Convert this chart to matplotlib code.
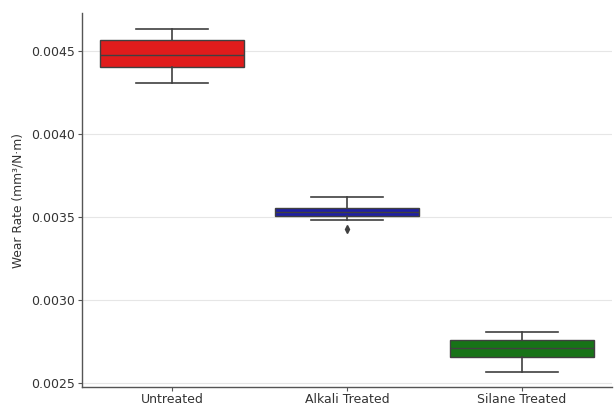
import matplotlib
matplotlib.use("Agg")
import matplotlib.pyplot as plt

# Wear-rate summary statistics per fibre treatment (mm^3/N·m)
treatments = ["Untreated", "Alkali Treated", "Silane Treated"]
whisker_low = [0.004308, 0.003482, 0.002568]
quartile_1 = [0.004404, 0.003506, 0.002658]
median = [0.004476, 0.003530, 0.002712]
quartile_3 = [0.004566, 0.003556, 0.002760]
whisker_high = [0.004632, 0.003620, 0.002808]
outliers = [[], [0.003428], []]

box_colors = ["#e01c1c", "#1f1fa3", "#177317"]
line_color = "#404040"

stats = []
for i, name in enumerate(treatments):
    stats.append(dict(label=name, med=median[i], q1=quartile_1[i], q3=quartile_3[i],
                      whislo=whisker_low[i], whishi=whisker_high[i],
                      fliers=outliers[i]))

fig = plt.figure(figsize=(6.14, 4.05), dpi=100)
ax = fig.add_axes([0.1336, 0.044, 0.863, 0.924])

bp = ax.bxp(stats, positions=range(len(treatments)), widths=0.82,
            patch_artist=True, showfliers=True,
            boxprops=dict(edgecolor=line_color, linewidth=1.0),
            medianprops=dict(color=line_color, linewidth=1.0),
            whiskerprops=dict(color=line_color, linewidth=1.2),
            capprops=dict(color=line_color, linewidth=1.2),
            flierprops=dict(marker="d", markerfacecolor=line_color,
                            markeredgecolor=line_color, markersize=4))
for patch, c in zip(bp["boxes"], box_colors):
    patch.set_facecolor(c)

ax.set_xlim(-0.514, 2.514)
ax.set_ylim(0.002476, 0.004728)
ax.set_yticks([0.0025, 0.0030, 0.0035, 0.0040, 0.0045])
ax.set_yticklabels(["0.0025", "0.0030", "0.0035", "0.0040", "0.0045"])
ax.set_xticks(range(len(treatments)))
ax.set_xticklabels(treatments)

ax.yaxis.grid(True, color="#e6e6e6", linewidth=0.8)
ax.set_axisbelow(True)
for side in ("top", "right"):
    ax.spines[side].set_visible(False)
for side in ("left", "bottom"):
    ax.spines[side].set_color("#555555")
    ax.spines[side].set_linewidth(1.0)

ax.tick_params(axis="both", labelsize=9, colors="#555555", labelcolor="#333333",
               length=3, width=0.8, pad=2)
ax.tick_params(axis="x", pad=1)
ax.set_ylabel("Wear Rate (mm³/N·m)", fontsize=8.8, color="#333333", labelpad=5)

fig.savefig("out.png", dpi=100)
